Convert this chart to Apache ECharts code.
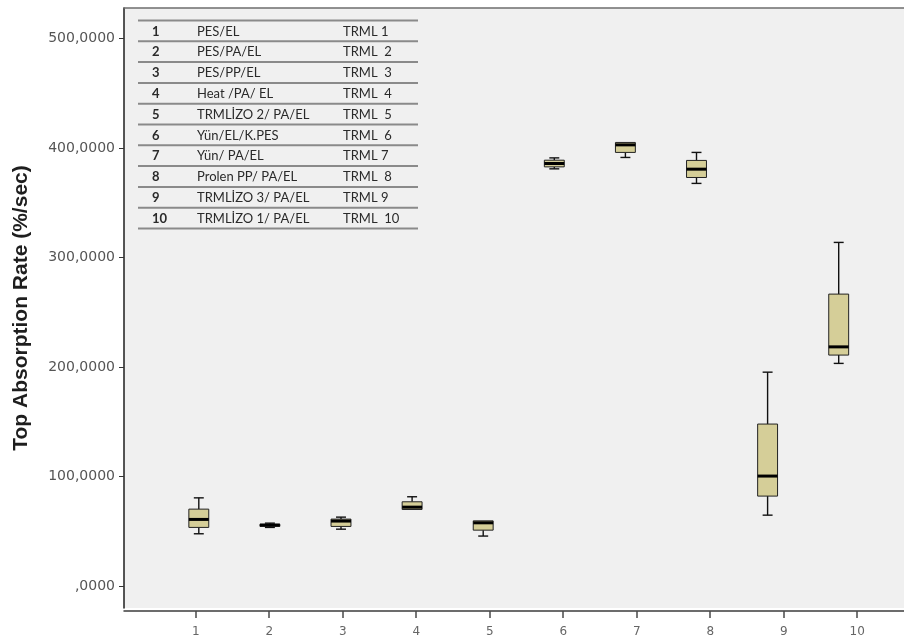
<!DOCTYPE html>
<html>
<head>
<meta charset="utf-8">
<title>Top Absorption Rate</title>
<script src="https://cdn.jsdelivr.net/npm/echarts@6/dist/echarts.min.js"></script>
<style>
  html, body { margin: 0; padding: 0; background: #ffffff; }
  #chart { width: 904px; height: 643px; }
</style>
</head>
<body>
<div id="chart"></div>
<script>
// Fabric groups on the x axis
const groups = ['1', '2', '3', '4', '5', '6', '7', '8', '9', '10'];

// Five-number summaries of the top absorption rate (%/sec) per group
const whiskerHigh = [80.6, 57.5, 63.0, 81.6, 59.6, 391.1, 405.2, 396.1, 195.4, 313.9];
const upperQuartile = [70.3, 56.5, 61.2, 77.0, 59.6, 389.0, 405.2, 388.8, 148.0, 266.7];
const medians = [60.9, 55.7, 59.4, 72.1, 57.8, 386.0, 403.0, 380.8, 100.5, 218.5];
const lowerQuartile = [53.6, 54.6, 54.5, 70.0, 51.1, 382.9, 396.1, 373.2, 82.2, 211.0];
const whiskerLow = [47.8, 53.6, 52.0, 70.0, 45.7, 381.1, 391.5, 367.8, 64.8, 203.4];

// Value axis ticks
const yTicks = [0, 100, 200, 300, 400, 500];

// Key table: group number, fabric construction, sample code
const tableCodes = ['1', '2', '3', '4', '5', '6', '7', '8', '9', '10'];
const tableNames = ['PES/EL', 'PES/PA/EL', 'PES/PP/EL', 'Heat /PA/ EL', 'TRMLİZO 2/ PA/EL',
  'Yün/EL/K.PES', 'Yün/ PA/EL', 'Prolen PP/ PA/EL', 'TRMLİZO 3/ PA/EL', 'TRMLİZO 1/ PA/EL'];
const tableTrml = ['TRML 1', 'TRML  2', 'TRML  3', 'TRML  4', 'TRML  5',
  'TRML  6', 'TRML 7', 'TRML  8', 'TRML 9', 'TRML  10'];

const Y_MIN = -20;
const Y_MAX = 528;

const boxData = groups.map((g, i) => [i, whiskerLow[i], lowerQuartile[i], medians[i], upperQuartile[i], whiskerHigh[i]]);

function renderBox(params, api) {
  const cat = api.value(0);
  const lo = api.coord([cat, api.value(1)]);
  const b1 = api.coord([cat, api.value(2)]);
  const md = api.coord([cat, api.value(3)]);
  const b3 = api.coord([cat, api.value(4)]);
  const hi = api.coord([cat, api.value(5)]);
  const band = api.size([1, 0])[0];
  const bw = band * 0.28;
  const cw = bw / 2;
  const x = md[0];
  const whisker = { stroke: '#111111', lineWidth: 1.4 };
  const kids = [];
  if (api.value(5) > api.value(4)) {
    kids.push({ type: 'line', shape: { x1: x, y1: hi[1], x2: x, y2: b3[1] }, style: whisker });
    kids.push({ type: 'line', shape: { x1: x - cw / 2, y1: hi[1], x2: x + cw / 2, y2: hi[1] }, style: whisker });
  }
  if (api.value(1) < api.value(2)) {
    kids.push({ type: 'line', shape: { x1: x, y1: b1[1], x2: x, y2: lo[1] }, style: whisker });
    kids.push({ type: 'line', shape: { x1: x - cw / 2, y1: lo[1], x2: x + cw / 2, y2: lo[1] }, style: whisker });
  }
  kids.push({
    type: 'rect',
    shape: { x: x - bw / 2, y: b3[1], width: bw, height: b1[1] - b3[1] },
    style: { fill: '#d5ce98', stroke: '#222222', lineWidth: 1 }
  });
  kids.push({
    type: 'line',
    shape: { x1: x - bw / 2, y1: md[1], x2: x + bw / 2, y2: md[1] },
    style: { stroke: '#000000', lineWidth: 3 }
  });
  return { type: 'group', children: kids };
}

// Key table drawn as text rows separated by rules
const TABLE_LEFT = 138;
const TABLE_RIGHT = 418;
const TABLE_TOP = 20.5;
const ROW_H = 20.8;
const tableGraphics = [];
for (let r = 0; r <= tableCodes.length; r++) {
  const y = TABLE_TOP + r * ROW_H;
  tableGraphics.push({
    type: 'line',
    shape: { x1: TABLE_LEFT, y1: y, x2: TABLE_RIGHT, y2: y },
    style: { stroke: '#8a8a8a', lineWidth: 2 }
  });
}
tableCodes.forEach((c, r) => {
  const yc = TABLE_TOP + (r + 0.5) * ROW_H + 0.5;
  const font = { fill: '#2a2a2a', fontSize: 13, fontFamily: 'Lato', verticalAlign: 'middle', align: 'left' };
  tableGraphics.push({ type: 'text', x: 152, y: yc, style: Object.assign({}, font, { text: c, fontWeight: 'bold' }) });
  tableGraphics.push({ type: 'text', x: 197, y: yc, style: Object.assign({}, font, { text: tableNames[r] }) });
  tableGraphics.push({ type: 'text', x: 343, y: yc, style: Object.assign({}, font, { text: tableTrml[r] }) });
});

const chart = echarts.init(document.getElementById('chart'), null, { renderer: 'canvas' });

chart.setOption({
  animation: false,
  backgroundColor: '#ffffff',
  grid: [
    { left: 124, top: 8, width: 780, height: 600, show: true, backgroundColor: '#f0f0f0', borderWidth: 0 },
    { left: 163.25, top: 8, width: 711, height: 600 },
    { left: 158.95, top: 8, width: 735, height: 600 }
  ],
  xAxis: [
    {
      gridIndex: 0, type: 'value', position: 'top', min: 0, max: 1,
      axisLine: { show: true, onZero: false, lineStyle: { color: '#6e6e6e', width: 1.5 } },
      axisTick: { show: false }, axisLabel: { show: false }, splitLine: { show: false }
    },
    {
      gridIndex: 0, type: 'value', position: 'bottom', offset: 3, min: 0, max: 1,
      axisLine: { show: true, onZero: false, lineStyle: { color: '#3c3c3c', width: 1.5 } },
      axisTick: { show: false }, axisLabel: { show: false }, splitLine: { show: false }
    },
    {
      gridIndex: 1, type: 'category', data: groups, show: false,
      axisLine: { onZero: false }
    },
    {
      gridIndex: 2, type: 'category', data: groups, position: 'bottom', offset: 3,
      axisLine: { show: false, onZero: false },
      axisTick: { show: true, alignWithLabel: true, length: 7, lineStyle: { color: '#4a4a4a', width: 1.5 } },
      axisLabel: { color: '#666666', fontSize: 12, fontFamily: 'DejaVu Sans', margin: 15 },
      splitLine: { show: false }
    }
  ],
  yAxis: [
    {
      gridIndex: 0, type: 'value', min: Y_MIN, max: Y_MAX,
      axisLine: { show: true, onZero: false, lineStyle: { color: '#1e1e1e', width: 1.5 } },
      axisTick: { show: true, customValues: yTicks, length: 5, lineStyle: { color: '#333333', width: 1 } },
      axisLabel: {
        customValues: yTicks, color: '#555555', fontSize: 14, fontFamily: 'DejaVu Sans', margin: 9,
        formatter: v => (v === 0 ? '' : String(v)) + ',0000'
      },
      splitLine: { show: false },
      name: 'Top Absorption Rate (%/sec)',
      nameLocation: 'middle',
      nameGap: 92,
      nameTextStyle: { color: '#1e1e1e', fontSize: 21, fontWeight: 'bold', fontFamily: 'Liberation Sans' }
    },
    { gridIndex: 1, type: 'value', min: Y_MIN, max: Y_MAX, show: false, splitLine: { show: false } },
    { gridIndex: 2, type: 'value', min: Y_MIN, max: Y_MAX, show: false, splitLine: { show: false } }
  ],
  graphic: tableGraphics,
  series: [
    {
      type: 'custom',
      name: 'Top Absorption Rate',
      xAxisIndex: 2,
      yAxisIndex: 1,
      renderItem: renderBox,
      encode: { x: 0, y: [1, 2, 3, 4, 5] },
      data: boxData
    }
  ]
});
</script>
</body>
</html>
